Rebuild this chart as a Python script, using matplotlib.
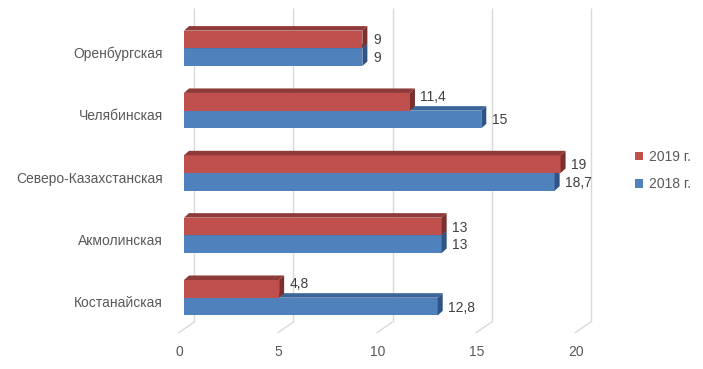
import matplotlib
matplotlib.use('Agg')
import matplotlib.pyplot as plt
from matplotlib.patches import Polygon, Patch

# ---- data ----
categories = ['Костанайская', 'Акмолинская', 'Северо-Казахстанская', 'Челябинская', 'Оренбургская']
v2018 = [12.8, 13, 18.7, 15, 9]
v2019 = [4.8, 13, 19, 11.4, 9]
labels2018 = ['12,8', '13', '18,7', '15', '9']
labels2019 = ['4,8', '13', '19', '11,4', '9']
ticks = [0, 5, 10, 15, 20]
tick_labels = ['0', '5', '10', '15', '20']
series_names = ['2019 г.', '2018 г.']

# ---- style ----
RED = '#C0504D'; RED_TOP = '#8E3A38'; RED_SIDE = '#7C302E'
BLUE = '#4F81BD'; BLUE_TOP = '#3A6598'; BLUE_SIDE = '#2F5384'
GRID = '#D9D9D9'
TXT = '#595959'; VTXT = '#404040'
FONT = 'Liberation Sans'
FS = 10

W, H = 703, 369
fig = plt.figure(figsize=(W / 100, H / 100), dpi=100)
ax = fig.add_axes([0, 0, 1, 1])
PXU = 19.82      # pixels per value unit
X0PX = 184       # pixel of value 0 (bar front)
CATPX = 62.35    # pixels per category
C0PX = 297.7     # pixel y (from top) of first category center
ax.set_xlim(-X0PX / PXU, (W - X0PX) / PXU)
ax.set_ylim((C0PX - H) / CATPX, C0PX / CATPX)
ax.axis('off')

def ux(px):
    return px / PXU

def uy(px):
    return px / CATPX

def py(p):
    return (C0PX - p) / CATPX

DX = ux(5)
DY = uy(4.5)
HH = uy(17.7)

# gridlines (back wall + floor)
for v in ticks:
    ax.plot([v + ux(-5.7), v + ux(10.3)], [py(333), py(322)], color=GRID, lw=1, zorder=1, solid_capstyle='butt')
    ax.plot([v + ux(10.3), v + ux(10.3)], [py(322), py(8)], color=GRID, lw=1, zorder=1, solid_capstyle='butt')

def bar3d(val, yb, yt, front, top, side, z):
    ax.add_patch(Polygon([(0, yb), (val, yb), (val, yt), (0, yt)], closed=True,
                         facecolor=front, edgecolor='none', zorder=z))
    ax.add_patch(Polygon([(0, yt), (val, yt), (val + DX, yt + DY), (DX, yt + DY)], closed=True,
                         facecolor=top, edgecolor='none', zorder=z))
    ax.add_patch(Polygon([(val, yb), (val + DX, yb + DY), (val + DX, yt + DY), (val, yt)], closed=True,
                         facecolor=side, edgecolor='none', zorder=z))

for i in range(len(categories)):
    bar3d(v2018[i], i - HH, i, BLUE, BLUE_TOP, BLUE_SIDE, 2)
for i in range(len(categories)):
    bar3d(v2019[i], i, i + HH, RED, RED_TOP, RED_SIDE, 3)

for i in range(len(categories)):
    # label of the upper bar is lifted when the lower bar is longer (avoids its top face)
    lift = uy(5) if v2018[i] > v2019[i] else -uy(1)
    ax.text(v2019[i] + ux(10.5), i + HH / 2 + lift, labels2019[i], ha='left', va='center',
            fontsize=FS, color=VTXT, family=FONT, zorder=5)
    ax.text(v2018[i] + ux(10.5), i - HH / 2 - uy(1), labels2018[i], ha='left', va='center',
            fontsize=FS, color=VTXT, family=FONT, zorder=5)
    ax.text(ux(-21), i - uy(5.5), categories[i], ha='right', va='center',
            fontsize=FS, color=TXT, family=FONT)

for v, t in zip(ticks, tick_labels):
    ax.text(v + ux(-4.7), py(352), t, ha='center', va='center', fontsize=FS, color=TXT, family=FONT)

handles = [Patch(facecolor=RED, edgecolor='none'), Patch(facecolor=BLUE, edgecolor='none')]
ax.legend(handles, series_names, loc='center left', bbox_to_anchor=(635 / W, 1 - 170.5 / H),
          frameon=False, handlelength=0.6, handleheight=0.6, handletextpad=0.4,
          labelspacing=0.95, borderpad=0, borderaxespad=0,
          prop={'family': FONT, 'size': FS}, labelcolor=TXT)

fig.savefig('out.png', dpi=100)
